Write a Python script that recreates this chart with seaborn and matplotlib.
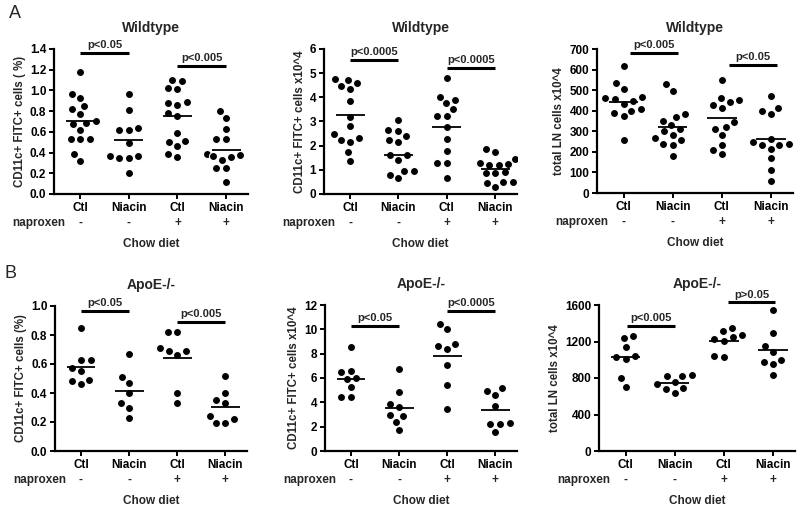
import matplotlib
matplotlib.use("Agg")
import matplotlib.pyplot as plt
import pandas as pd
import seaborn as sns

# groups on the x axis (Ctl / Niacin, without and with naproxen)
groups = ["Ctl-", "Niacin-", "Ctl+", "Niacin+"]
group_labels = ["Ctl", "Niacin", "Ctl", "Niacin"]
naproxen_signs = ["-", "-", "+", "+"]

# A - Wildtype, CD11c+ FITC+ cells (%)
wt_pct = [
    [1.18, 0.97, 0.93, 0.85, 0.82, 0.77, 0.70, 0.69, 0.68, 0.62, 0.53, 0.53, 0.53, 0.39, 0.32],
    [0.97, 0.81, 0.64, 0.62, 0.62, 0.49, 0.37, 0.37, 0.35, 0.35, 0.20],
    [1.10, 1.09, 1.02, 1.01, 0.89, 0.88, 0.86, 0.78, 0.75, 0.59, 0.51, 0.50, 0.46, 0.39, 0.36],
    [0.80, 0.73, 0.63, 0.53, 0.53, 0.39, 0.38, 0.37, 0.36, 0.33, 0.25, 0.25, 0.12],
]
wt_pct_means = [0.70, 0.52, 0.755, 0.42]
wt_pct_p = ["p<0.05", "p<0.005"]

# A - Wildtype, CD11c+ FITC+ cells x10^4
wt_cells = [
    [4.75, 4.72, 4.60, 4.45, 4.35, 3.85, 3.20, 2.80, 2.50, 2.30, 2.25, 2.15, 1.75, 1.38],
    [3.05, 2.65, 2.60, 2.40, 2.25, 2.15, 1.60, 1.60, 1.40, 0.95, 0.95, 0.80, 0.65],
    [4.82, 4.03, 3.88, 3.75, 3.50, 3.22, 3.22, 2.78, 2.26, 1.78, 1.30, 1.30, 0.68],
    [1.85, 1.72, 1.45, 1.30, 1.25, 1.20, 1.20, 0.90, 0.85, 0.85, 0.50, 0.50, 0.45, 0.27],
]
wt_cells_means = [3.28, 1.63, 2.77, 1.02]
wt_cells_p = ["p<0.0005", "p<0.0005"]

# A - Wildtype, total LN cells x10^4
wt_ln = [
    [615, 535, 505, 465, 460, 455, 445, 435, 410, 400, 390, 375, 260],
    [530, 497, 384, 368, 352, 330, 310, 300, 280, 265, 258, 240, 235, 180],
    [551, 460, 450, 440, 430, 415, 345, 320, 310, 280, 235, 210, 190],
    [472, 415, 400, 385, 262, 250, 240, 235, 232, 215, 170, 110, 60],
]
wt_ln_means = [442, 323, 363, 263]
wt_ln_p = ["p<0.005", "p<0.05"]

# B - ApoE-/-, CD11c+ FITC+ cells (%)
apoe_pct = [
    [0.85, 0.63, 0.63, 0.57, 0.55, 0.49, 0.48, 0.46],
    [0.67, 0.51, 0.47, 0.40, 0.33, 0.30, 0.23],
    [0.82, 0.82, 0.71, 0.69, 0.69, 0.66, 0.40, 0.33],
    [0.52, 0.40, 0.35, 0.33, 0.24, 0.22, 0.19, 0.19],
]
apoe_pct_means = [0.58, 0.415, 0.64, 0.305]
apoe_pct_p = ["p<0.05", "p<0.005"]

# B - ApoE-/-, CD11c+ FITC+ cells x10^4
apoe_cells = [
    [8.55, 6.58, 6.52, 5.97, 5.90, 5.23, 4.47, 4.47],
    [6.70, 4.85, 3.90, 3.60, 3.00, 2.90, 2.40, 1.70],
    [10.45, 10.0, 8.80, 8.65, 8.35, 7.05, 5.40, 3.45],
    [5.15, 4.95, 4.60, 3.70, 2.30, 2.25, 2.20, 1.55],
]
apoe_cells_means = [5.95, 3.53, 7.80, 3.40]
apoe_cells_p = ["p<0.05", "p<0.0005"]

# B - ApoE-/-, total LN cells x10^4
apoe_ln = [
    [1264, 1235, 1136, 1041, 1033, 1008, 796, 705],
    [830, 820, 825, 760, 730, 690, 680, 640],
    [1350, 1310, 1270, 1250, 1230, 1210, 1040, 1030],
    [1540, 1290, 1150, 1090, 1000, 980, 950, 830],
]
apoe_ln_means = [1032, 742, 1210, 1105]
apoe_ln_p = ["p<0.005", "p>0.05"]

# layout: axes box in pixels (left, top, right, bottom), y ticks, bar heights
panels = [
    dict(vals=wt_pct, means=wt_pct_means, p=wt_pct_p, title="Wildtype",
         ylabel="CD11c+ FITC+ cells ( %)", box=(54, 49, 248, 194),
         yticks=[0, 0.2, 0.4, 0.6, 0.8, 1.0, 1.2, 1.4], fmt="{:.1f}",
         bars=[(0, 1, 1.36), (2, 3, 1.24)]),
    dict(vals=wt_cells, means=wt_cells_means, p=wt_cells_p, title="Wildtype",
         ylabel="CD11c+ FITC+ cells x10^4", box=(324, 49, 517, 194),
         yticks=[0, 1, 2, 3, 4, 5, 6], fmt="{:d}",
         bars=[(0, 1, 5.55), (2, 3, 5.23)]),
    dict(vals=wt_ln, means=wt_ln_means, p=wt_ln_p, title="Wildtype",
         ylabel="total LN cells x10^4", box=(597, 49, 793, 193),
         yticks=[0, 100, 200, 300, 400, 500, 600, 700], fmt="{:d}",
         bars=[(0.13, 1.1, 681), (2.15, 3.12, 621)]),
    dict(vals=apoe_pct, means=apoe_pct_means, p=apoe_pct_p, title="ApoE-/-",
         ylabel="CD11c+ FITC+ cells (%)", box=(55, 306, 247, 451),
         yticks=[0, 0.2, 0.4, 0.6, 0.8, 1.0], fmt="{:.1f}",
         bars=[(0, 1, 0.968), (2, 3, 0.89)]),
    dict(vals=apoe_cells, means=apoe_cells_means, p=apoe_cells_p, title="ApoE-/-",
         ylabel="CD11c+ FITC+ cells x10^4", box=(325, 305, 517, 451),
         yticks=[0, 2, 4, 6, 8, 10, 12], fmt="{:d}",
         bars=[(0, 1, 10.3), (2, 3, 11.53)]),
    dict(vals=apoe_ln, means=apoe_ln_means, p=apoe_ln_p, title="ApoE-/-",
         ylabel="total LN cells x10^4", box=(599, 305, 795, 451),
         yticks=[0, 400, 800, 1200, 1600], fmt="{:d}",
         bars=[(0.02, 1.0, 1373), (2.08, 3.05, 1629)]),
]

sns.set_style("ticks")
plt.rcParams["font.family"] = ["Liberation Sans", "DejaVu Sans"]
plt.rcParams["font.weight"] = "bold"
plt.rcParams["axes.labelweight"] = "bold"
plt.rcParams["axes.titleweight"] = "bold"

FS = 8.5
W, H = 800, 518
fig = plt.figure(figsize=(W / 100, H / 100), dpi=100)

for pnl in panels:
    l, t, r, b = pnl["box"]
    ax = fig.add_axes([l / W, 1 - b / H, (r - l) / W, (b - t) / H])

    rows = []
    for g, vs in zip(groups, pnl["vals"]):
        for v in vs:
            rows.append({"group": g, "value": v})
    df = pd.DataFrame(rows)

    # thin white edge keeps a small gap between neighbouring dots
    sns.swarmplot(data=df, x="group", y="value", order=groups, color="black",
                  size=5.8, linewidth=0.8, edgecolor="white", ax=ax)

    # mean lines
    for i, m in enumerate(pnl["means"]):
        ax.hlines(m, i - 0.3, i + 0.3, color="black", lw=1.3, zorder=5)

    # significance bars
    for (x0, x1, yb), lab in zip(pnl["bars"], pnl["p"]):
        ax.plot([x0, x1], [yb, yb], color="black", lw=2.2, clip_on=False,
                solid_capstyle="butt")
        ax.annotate(lab, xy=((x0 + x1) / 2, yb), xytext=(0, 2),
                    textcoords="offset points", ha="center", va="bottom",
                    fontsize=8, fontweight="bold", annotation_clip=False)

    ax.set_xlim(-0.54, 3.45)
    ax.set_ylim(0, pnl["yticks"][-1])
    ax.set_yticks(pnl["yticks"])
    ax.set_yticklabels([pnl["fmt"].format(v) for v in pnl["yticks"]])
    ax.set_xticks(range(4))
    ax.set_xticklabels(group_labels)
    ax.set_xlabel("")
    ax.set_ylabel(pnl["ylabel"], fontsize=8.3, fontweight="bold", labelpad=3)
    ax.set_title(pnl["title"], fontsize=10, fontweight="bold", pad=12)

    sns.despine(ax=ax)
    for s in ["left", "bottom"]:
        ax.spines[s].set_linewidth(1.6)
        ax.spines[s].set_color("black")
    ax.tick_params(axis="both", length=3.5, width=1.4, labelsize=FS,
                   colors="black", pad=2)
    for lbl in ax.get_xticklabels() + ax.get_yticklabels():
        lbl.set_fontweight("bold")

    # naproxen row and diet label
    ax.annotate("naproxen", xy=(0, 0), xycoords="axes fraction",
                xytext=(8, -21), textcoords="offset points",
                ha="right", va="center", fontsize=FS, fontweight="bold")
    for i, sgn in enumerate(naproxen_signs):
        ax.annotate(sgn, xy=(i, 0), xycoords=ax.get_xaxis_transform(),
                    xytext=(0, -21), textcoords="offset points",
                    ha="center", va="center", fontsize=FS, fontweight="bold")
    ax.annotate("Chow diet", xy=(0.5, 0), xycoords="axes fraction",
                xytext=(0, -36), textcoords="offset points",
                ha="center", va="center", fontsize=8.5, fontweight="bold")

fig.text(15 / W, 1 - 14 / H, "A", fontsize=13, fontweight="normal",
         ha="center", va="center")
fig.text(11 / W, 1 - 273 / H, "B", fontsize=13, fontweight="normal",
         ha="center", va="center")

fig.savefig("out.png", dpi=100, facecolor="white")
